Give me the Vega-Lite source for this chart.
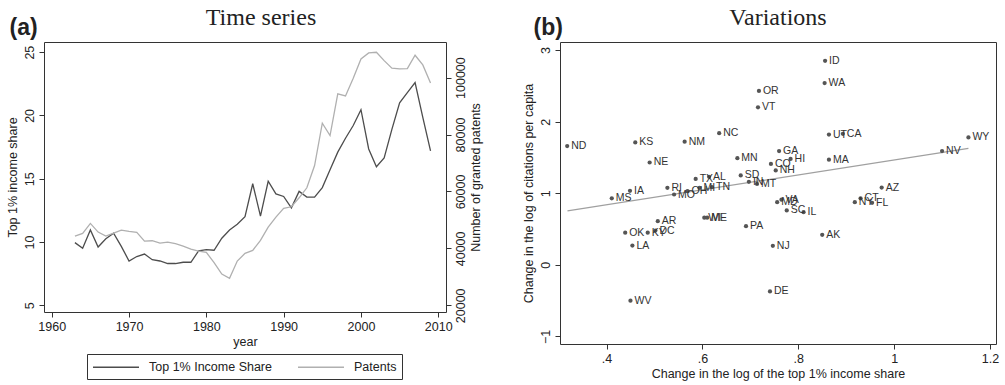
{
  "$schema": "https://vega.github.io/schema/vega-lite/v6.json",
  "background": "white",
  "padding": {"left": 5, "top": 5, "right": 5, "bottom": 0},
  "datasets": {
    "ts": [
      {"year": 1963, "share": 9.95, "patents": 44300},
      {"year": 1964, "share": 9.5, "patents": 45260},
      {"year": 1965, "share": 10.95, "patents": 48770},
      {"year": 1966, "share": 9.6, "patents": 45730},
      {"year": 1967, "share": 10.25, "patents": 44330},
      {"year": 1968, "share": 10.7, "patents": 45380},
      {"year": 1969, "share": 9.65, "patents": 46430},
      {"year": 1970, "share": 8.5, "patents": 45970},
      {"year": 1971, "share": 8.85, "patents": 45610},
      {"year": 1972, "share": 9.05, "patents": 42570},
      {"year": 1973, "share": 8.6, "patents": 42690},
      {"year": 1974, "share": 8.5, "patents": 41870},
      {"year": 1975, "share": 8.3, "patents": 42220},
      {"year": 1976, "share": 8.3, "patents": 41640},
      {"year": 1977, "share": 8.4, "patents": 40820},
      {"year": 1978, "share": 8.4, "patents": 39770},
      {"year": 1979, "share": 9.3, "patents": 39070},
      {"year": 1980, "share": 9.4, "patents": 38600},
      {"year": 1981, "share": 9.35, "patents": 34970},
      {"year": 1982, "share": 10.3, "patents": 31000},
      {"year": 1983, "share": 10.95, "patents": 29470},
      {"year": 1984, "share": 11.4, "patents": 35560},
      {"year": 1985, "share": 12.0, "patents": 38250},
      {"year": 1986, "share": 14.6, "patents": 39300},
      {"year": 1987, "share": 12.05, "patents": 42810},
      {"year": 1988, "share": 14.8, "patents": 47490},
      {"year": 1989, "share": 13.8, "patents": 51000},
      {"year": 1990, "share": 13.6, "patents": 54040},
      {"year": 1991, "share": 12.7, "patents": 54620},
      {"year": 1992, "share": 14.0, "patents": 57780},
      {"year": 1993, "share": 13.55, "patents": 61290},
      {"year": 1994, "share": 13.55, "patents": 69120},
      {"year": 1995, "share": 14.3, "patents": 83980},
      {"year": 1996, "share": 15.7, "patents": 79650},
      {"year": 1997, "share": 17.1, "patents": 94270},
      {"year": 1998, "share": 18.2, "patents": 93570},
      {"year": 1999, "share": 19.2, "patents": 99770},
      {"year": 2000, "share": 20.45, "patents": 106550},
      {"year": 2001, "share": 17.35, "patents": 108660},
      {"year": 2002, "share": 15.95, "patents": 108890},
      {"year": 2003, "share": 16.65, "patents": 105970},
      {"year": 2004, "share": 18.9, "patents": 103280},
      {"year": 2005, "share": 21.0, "patents": 103040},
      {"year": 2006, "share": 21.8, "patents": 103160},
      {"year": 2007, "share": 22.6, "patents": 107840},
      {"year": 2008, "share": 19.85, "patents": 104450},
      {"year": 2009, "share": 17.2, "patents": 98130}
    ],
    "states": [
      {"state": "ND", "x": 0.318, "y": 1.66},
      {"state": "KS", "x": 0.46, "y": 1.71},
      {"state": "NM", "x": 0.563, "y": 1.72},
      {"state": "NC", "x": 0.635, "y": 1.84},
      {"state": "OR", "x": 0.718, "y": 2.43},
      {"state": "VT", "x": 0.716, "y": 2.2},
      {"state": "NE", "x": 0.49, "y": 1.43},
      {"state": "MN", "x": 0.673, "y": 1.49},
      {"state": "TX", "x": 0.586, "y": 1.2},
      {"state": "AL", "x": 0.614, "y": 1.23},
      {"state": "SD", "x": 0.68, "y": 1.25},
      {"state": "MS", "x": 0.411, "y": 0.93},
      {"state": "IA", "x": 0.449, "y": 1.035},
      {"state": "RI", "x": 0.527, "y": 1.077},
      {"state": "MO", "x": 0.541, "y": 0.983},
      {"state": "OH", "x": 0.569, "y": 1.03},
      {"state": "MI", "x": 0.594, "y": 1.077},
      {"state": "TN", "x": 0.62, "y": 1.085},
      {"state": "ID", "x": 0.856, "y": 2.85},
      {"state": "WA", "x": 0.855, "y": 2.54},
      {"state": "UT", "x": 0.864, "y": 1.82},
      {"state": "CA", "x": 0.893, "y": 1.83},
      {"state": "GA", "x": 0.76, "y": 1.59},
      {"state": "HI", "x": 0.784, "y": 1.48},
      {"state": "CO", "x": 0.743, "y": 1.41},
      {"state": "NH", "x": 0.753, "y": 1.32},
      {"state": "MA", "x": 0.864, "y": 1.47},
      {"state": "NV", "x": 1.1, "y": 1.59},
      {"state": "WY", "x": 1.155, "y": 1.78},
      {"state": "AZ", "x": 0.974, "y": 1.08},
      {"state": "IN", "x": 0.697, "y": 1.16},
      {"state": "MT", "x": 0.714, "y": 1.13},
      {"state": "VA", "x": 0.765, "y": 0.91},
      {"state": "MD", "x": 0.756, "y": 0.876},
      {"state": "SC", "x": 0.776, "y": 0.76},
      {"state": "IL", "x": 0.811, "y": 0.736},
      {"state": "NY", "x": 0.918, "y": 0.876},
      {"state": "CT", "x": 0.93, "y": 0.93},
      {"state": "FL", "x": 0.954, "y": 0.867},
      {"state": "AK", "x": 0.85, "y": 0.42},
      {"state": "PA", "x": 0.691, "y": 0.54},
      {"state": "NJ", "x": 0.747, "y": 0.266},
      {"state": "DE", "x": 0.741, "y": -0.37},
      {"state": "WI", "x": 0.604, "y": 0.66},
      {"state": "ME", "x": 0.61, "y": 0.66},
      {"state": "AR", "x": 0.507, "y": 0.61},
      {"state": "OK", "x": 0.439, "y": 0.45},
      {"state": "KY", "x": 0.486, "y": 0.45},
      {"state": "DC", "x": 0.502, "y": 0.48},
      {"state": "LA", "x": 0.454, "y": 0.27},
      {"state": "WV", "x": 0.45, "y": -0.5}
    ],
    "fit": [
      {"x": 0.3186, "y": 0.755},
      {"x": 1.155, "y": 1.627}
    ]
  },
  "config": {
    "font": "Liberation Sans",
    "view": {"stroke": "#333", "strokeWidth": 1},
    "axis": {
      "grid": false,
      "domain": false,
      "tickColor": "#333",
      "tickSize": 5,
      "labelFont": "Liberation Sans",
      "labelFontSize": 12.5,
      "labelColor": "#222",
      "titleFont": "Liberation Sans",
      "titleFontSize": 12.5,
      "titleFontWeight": "normal",
      "titleColor": "#222"
    }
  },
  "spacing": 38,
  "resolve": {"scale": {"color": "independent"}, "legend": {"color": "independent"}},
  "hconcat": [
    {
      "title": {"text": "(a)", "anchor": "start", "frame": "bounds", "font": "Liberation Sans", "fontSize": 23, "fontWeight": "bold", "color": "#222", "offset": -34, "dx": 4},
      "resolve": {"scale": {"color": "independent"}, "legend": {"color": "independent"}},
      "vconcat": [
        {
          "width": 402,
          "height": 270,
          "title": {"text": "Time series", "font": "Liberation Serif", "fontSize": 24, "fontWeight": "normal", "color": "#222", "anchor": "middle", "dx": 16, "offset": 12},
          "data": {"name": "ts"},
          "layer": [
            {
              "mark": {"type": "line", "strokeWidth": 1.3},
              "encoding": {
                "x": {"field": "year", "type": "quantitative", "scale": {"domain": [1959, 2011], "nice": false, "zero": false}, "axis": {"values": [1960, 1970, 1980, 1990, 2000, 2010], "format": "d", "title": "year", "labelPadding": 3, "titlePadding": 3}},
                "y": {"field": "share", "type": "quantitative", "scale": {"domain": [4.47, 25.8], "nice": false, "zero": false}, "axis": {"values": [5, 10, 15, 20, 25], "title": "Top 1% income share", "labelAngle": -90, "labelAlign": "center", "labelBaseline": "bottom", "labelPadding": 3}},
                "color": {
                  "datum": "Top 1% Income Share",
                  "type": "nominal",
                  "scale": {"domain": ["Top 1% Income Share", "Patents"], "range": ["#4d4d4d", "#b0b0b0"]},
                  "legend": {"orient": "none", "legendX": 43, "legendY": 312, "direction": "horizontal", "title": null, "symbolType": "M-1,0H5.571", "symbolSize": 196, "symbolStrokeWidth": 1.3, "strokeColor": "#333", "padding": 5, "labelFontSize": 12.5, "labelColor": "#222", "labelOffset": 41, "columnPadding": 23}
                }
              }
            },
            {
              "mark": {"type": "line", "strokeWidth": 1.3},
              "encoding": {
                "x": {"field": "year", "type": "quantitative"},
                "y": {"field": "patents", "type": "quantitative", "scale": {"domain": [17660, 112500], "nice": false, "zero": false}, "axis": {"orient": "right", "values": [20000, 40000, 60000, 80000, 100000], "format": "d", "title": "Number of granted patents", "titleAngle": 270, "titleBaseline": "top", "titlePadding": 3, "labelAngle": -90, "labelAlign": "center", "labelBaseline": "top", "labelPadding": 3}},
                "color": {"datum": "Patents", "type": "nominal"}
              }
            }
          ],
          "resolve": {"scale": {"y": "independent"}}
        }
      ]
    },
    {
      "title": {"text": "(b)", "anchor": "start", "frame": "bounds", "font": "Liberation Sans", "fontSize": 23, "fontWeight": "bold", "color": "#222", "offset": -34, "dx": 12},
      "vconcat": [
        {
          "width": 436,
          "height": 302,
          "title": {"text": "Variations", "font": "Liberation Serif", "fontSize": 24, "fontWeight": "normal", "color": "#222", "anchor": "middle", "offset": 12},
          "layer": [
            {
              "data": {"name": "fit"},
              "mark": {"type": "line", "color": "#a0a0a0", "strokeWidth": 1.2},
              "encoding": {
                "x": {"field": "x", "type": "quantitative", "scale": {"domain": [0.303, 1.2125], "nice": false, "zero": false}, "axis": {"values": [0.4, 0.6, 0.8, 1, 1.2], "labelExpr": "datum.value < 1 ? '.' + format(datum.value * 10, '.0f') : format(datum.value, '~g')", "title": "Change in the log of the top 1% income share", "labelPadding": 3, "titlePadding": 3}},
                "y": {"field": "y", "type": "quantitative", "scale": {"domain": [-1.105, 3.113], "nice": false, "zero": false}, "axis": {"values": [-1, 0, 1, 2, 3], "format": "~g", "title": "Change in the log of citations per capita", "labelAngle": -90, "labelAlign": "center", "labelBaseline": "bottom", "labelPadding": 3}}
              }
            },
            {
              "data": {"name": "states"},
              "mark": {"type": "circle", "size": 18, "color": "#555", "opacity": 1},
              "encoding": {
                "x": {"field": "x", "type": "quantitative"},
                "y": {"field": "y", "type": "quantitative"}
              }
            },
            {
              "data": {"name": "states"},
              "mark": {"type": "text", "align": "left", "baseline": "middle", "dx": 4, "fontSize": 10.5, "color": "#333", "font": "Liberation Sans"},
              "encoding": {
                "x": {"field": "x", "type": "quantitative"},
                "y": {"field": "y", "type": "quantitative"},
                "text": {"field": "state", "type": "nominal"}
              }
            }
          ]
        }
      ]
    }
  ]
}
